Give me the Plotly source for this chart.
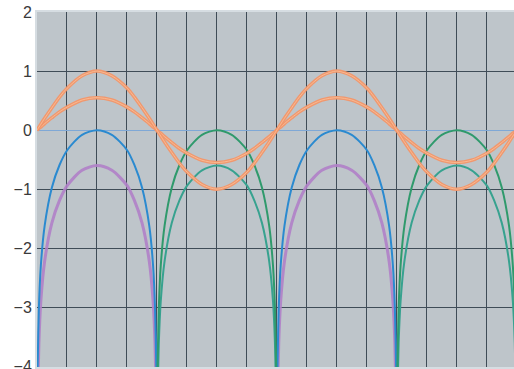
import plotly.graph_objects as go

# x positions (radians), four half-periods
x_vals = [
    0, 0.02, 0.05, 0.1, 0.2, 0.39, 0.59, 0.79, 1.18, 1.57, 1.96, 2.36, 2.55, 2.75, 2.94, 3.04, 3.09, 3.12,
    3.14, 3.16, 3.19, 3.24, 3.34, 3.53, 3.73, 3.93, 4.32, 4.71, 5.1, 5.5, 5.69, 5.89, 6.08, 6.18, 6.23, 6.26,
    6.28, 6.3, 6.33, 6.38, 6.48, 6.67, 6.87, 7.07, 7.46, 7.85, 8.24, 8.64, 8.83, 9.03, 9.22, 9.32, 9.37, 9.4,
    9.42, 9.44, 9.47, 9.52, 9.62, 9.81, 10.01, 10.21, 10.6, 10.99, 11.38, 11.78, 11.97, 12.17, 12.36, 12.46, 12.51, 12.54,
    12.57,
]

wave_big = [
    0, 0.02, 0.05, 0.10, 0.20, 0.38, 0.56, 0.71, 0.92, 1.0, 0.92, 0.71, 0.56, 0.38, 0.20, 0.10, 0.05, 0.02,
    0, -0.02, -0.05, -0.10, -0.20, -0.38, -0.56, -0.71, -0.92, -1.0, -0.92, -0.71, -0.56, -0.38, -0.20, -0.10, -0.05, -0.02,
    0, 0.02, 0.05, 0.10, 0.20, 0.38, 0.56, 0.71, 0.92, 1.0, 0.92, 0.71, 0.56, 0.38, 0.20, 0.10, 0.05, 0.02,
    0, -0.02, -0.05, -0.10, -0.20, -0.38, -0.56, -0.71, -0.92, -1.0, -0.92, -0.71, -0.56, -0.38, -0.20, -0.10, -0.05, -0.02,
    0,
]

wave_small = [
    0, 0.01, 0.03, 0.05, 0.11, 0.21, 0.31, 0.39, 0.51, 0.55, 0.51, 0.39, 0.31, 0.21, 0.11, 0.05, 0.03, 0.01,
    0, -0.01, -0.03, -0.05, -0.11, -0.21, -0.31, -0.39, -0.51, -0.55, -0.51, -0.39, -0.31, -0.21, -0.11, -0.05, -0.03, -0.01,
    0, 0.01, 0.03, 0.05, 0.11, 0.21, 0.31, 0.39, 0.51, 0.55, 0.51, 0.39, 0.31, 0.21, 0.11, 0.05, 0.03, 0.01,
    0, -0.01, -0.03, -0.05, -0.11, -0.21, -0.31, -0.39, -0.51, -0.55, -0.51, -0.39, -0.31, -0.21, -0.11, -0.05, -0.03, -0.01,
    0,
]

N = None
log_big_up = [
    -4.5, -3.91, -3.0, -2.3, -1.62, -0.97, -0.59, -0.34, -0.08, 0, -0.08, -0.34, -0.59, -0.97, -1.62, -2.3, -3.0, -3.91,
    -4.5, N, N, N, N, N, N, N, N, N, N, N, N, N, N, N, N, N,
    -4.5, -3.91, -3.0, -2.3, -1.62, -0.97, -0.59, -0.34, -0.08, 0, -0.08, -0.34, -0.59, -0.97, -1.62, -2.3, -3.0, -3.91,
    -4.5, N, N, N, N, N, N, N, N, N, N, N, N, N, N, N, N, N,
    N,
]

log_small_up = [
    -5.1, -4.51, -3.6, -2.9, -2.22, -1.57, -1.19, -0.94, -0.68, -0.6, -0.68, -0.94, -1.19, -1.57, -2.22, -2.9, -3.6, -4.51,
    -5.1, N, N, N, N, N, N, N, N, N, N, N, N, N, N, N, N, N,
    -5.1, -4.51, -3.6, -2.9, -2.22, -1.57, -1.19, -0.94, -0.68, -0.6, -0.68, -0.94, -1.19, -1.57, -2.22, -2.9, -3.6, -4.51,
    -5.1, N, N, N, N, N, N, N, N, N, N, N, N, N, N, N, N, N,
    N,
]

log_big_down = [
    N, N, N, N, N, N, N, N, N, N, N, N, N, N, N, N, N, N,
    -4.5, -3.91, -3.0, -2.3, -1.62, -0.97, -0.59, -0.34, -0.08, 0, -0.08, -0.34, -0.59, -0.97, -1.62, -2.3, -3.0, -3.91,
    -4.5, N, N, N, N, N, N, N, N, N, N, N, N, N, N, N, N, N,
    -4.5, -3.91, -3.0, -2.3, -1.62, -0.97, -0.59, -0.34, -0.08, 0, -0.08, -0.34, -0.59, -0.97, -1.62, -2.3, -3.0, -3.91,
    -4.5,
]

log_small_down = [
    N, N, N, N, N, N, N, N, N, N, N, N, N, N, N, N, N, N,
    -5.1, -4.51, -3.6, -2.9, -2.22, -1.57, -1.19, -0.94, -0.68, -0.6, -0.68, -0.94, -1.19, -1.57, -2.22, -2.9, -3.6, -4.51,
    -5.1, N, N, N, N, N, N, N, N, N, N, N, N, N, N, N, N, N,
    -5.1, -4.51, -3.6, -2.9, -2.22, -1.57, -1.19, -0.94, -0.68, -0.6, -0.68, -0.94, -1.19, -1.57, -2.22, -2.9, -3.6, -4.51,
    -5.1,
]

y_ticks = [2, 1, 0, -1, -2, -3, -4]

fig = go.Figure()

def add(y, color, width):
    fig.add_trace(go.Scatter(
        x=x_vals, y=y, mode="lines",
        line=dict(color=color, width=width, shape="spline", smoothing=0.8),
        connectgaps=False, showlegend=False, hoverinfo="skip",
    ))

add(log_small_up, "rgba(176,128,200,0.9)", 3)
add(log_big_up, "#2a8ad0", 2)
add(log_small_down, "#37a28f", 2)
add(log_big_down, "#2f9a6c", 2)
add(wave_small, "rgba(242,150,105,0.95)", 3.5)
add(wave_small, "rgba(250,190,150,0.9)", 1)
add(wave_big, "rgba(242,150,105,0.95)", 3.5)
add(wave_big, "rgba(250,190,150,0.9)", 1)

fig.update_layout(
    width=514, height=369,
    margin=dict(l=37, r=0, t=12, b=2),
    paper_bgcolor="white",
    plot_bgcolor="#bec5ca",
    xaxis=dict(
        range=[0, 12.49], showticklabels=False, ticks="", automargin=False,
        showgrid=True, gridcolor="#3f4c57", gridwidth=1.3,
        tick0=0, dtick=0.785398, zeroline=False,
        showline=True, linecolor="#d6dde2", linewidth=2, mirror=True,
    ),
    yaxis=dict(
        range=[-4.01, 2], tickvals=y_ticks, ticks="", automargin=False,
        ticklabeloverflow="allow",
        showgrid=True, gridcolor="#3f4c57", gridwidth=1.3,
        zeroline=True, zerolinecolor="#7fa8d6", zerolinewidth=1.2,
        showline=True, linecolor="#d6dde2", linewidth=2, mirror=True,
        tickfont=dict(family="Liberation Sans, Arial, sans-serif", size=16, color="#3a3a3a"),
    ),
)

fig.write_html(
    "out.html",
    config={"displayModeBar": False},
    post_script="document.body.style.margin='0';document.body.style.overflow='hidden';",
)
